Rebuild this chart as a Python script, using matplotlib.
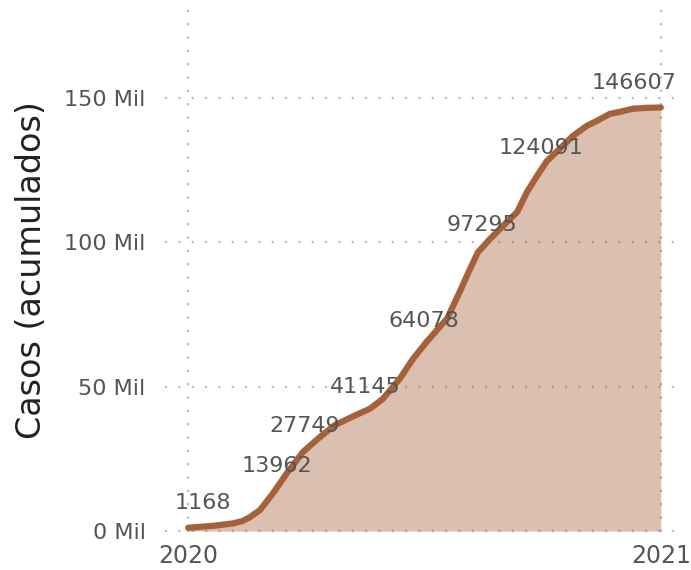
import matplotlib
matplotlib.use("Agg")
import matplotlib.pyplot as plt

# cumulative cases (x = year)
years = [2020.000, 2020.053, 2020.095, 2020.115, 2020.131, 2020.152, 2020.180, 2020.209,
         2020.243, 2020.279, 2020.311, 2020.321, 2020.350, 2020.385, 2020.412, 2020.448,
         2020.476, 2020.505, 2020.548, 2020.575, 2020.596, 2020.613, 2020.638, 2020.666,
         2020.696, 2020.717, 2020.738, 2020.759, 2020.786, 2020.814, 2020.844, 2020.865,
         2020.892, 2020.913, 2020.941, 2020.970, 2021.000]
cases = [1168, 1840, 2670, 3500, 4860, 7300, 13200, 20100,
         27400, 32600, 36800, 37500, 39800, 42400, 45800, 52800,
         59700, 65600, 73600, 83000, 90600, 96500, 101000, 105600,
         110400, 117400, 122900, 128100, 132300, 136800, 140300, 142000,
         144400, 145100, 146200, 146500, 146607]

# annotated points
label_years = [2020.030, 2020.188, 2020.247, 2020.374, 2020.499, 2020.621, 2020.746, 2021.000]
label_vals = [1168, 13962, 27749, 41145, 64078, 97295, 124091, 146607]

yticks = [0, 50000, 100000, 150000]
ytick_labels = ["0 Mil", "50 Mil", "100 Mil", "150 Mil"]
xticks = [2020, 2021]

col = "#a6613a"
grey = "#555555"

fig = plt.figure(figsize=(6.91, 5.70), dpi=100)
ax = fig.add_axes([0.2388, 0.0667, 0.738, 0.919])

ax.fill_between(years, cases, 0, color=col, alpha=0.4, lw=0)
ax.plot(years, cases, color=col, lw=4.5, solid_capstyle="round", solid_joinstyle="round",
        clip_on=False, zorder=3)

for i, (x, v) in enumerate(zip(label_years, label_vals)):
    dx = -19.5 if i == len(label_vals) - 1 else 0
    ax.annotate(str(v), (x, v), textcoords="offset points", xytext=(dx, 18),
                ha="center", va="center", fontsize=16, color=grey, zorder=4)

ax.set_xlim(2019.951, 2021.030)
ax.set_ylim(-300, 181000)
ax.set_xticks(xticks)
ax.set_xticklabels([str(x) for x in xticks])
ax.set_yticks(yticks)
ax.set_yticklabels(ytick_labels)
ax.tick_params(axis="both", length=0, labelsize=16, colors=grey)
ax.tick_params(axis="x", labelsize=17, pad=9)
ax.tick_params(axis="y", pad=14)
ax.grid(True, color="#bdbdbd", lw=1.6, ls=(0, (1, 5)))
ax.set_axisbelow(True)
for s in ax.spines.values():
    s.set_visible(False)
ax.set_ylabel("Casos (acumulados)", fontsize=24, color="#222222", labelpad=12)

fig.savefig("out.png", dpi=100)
